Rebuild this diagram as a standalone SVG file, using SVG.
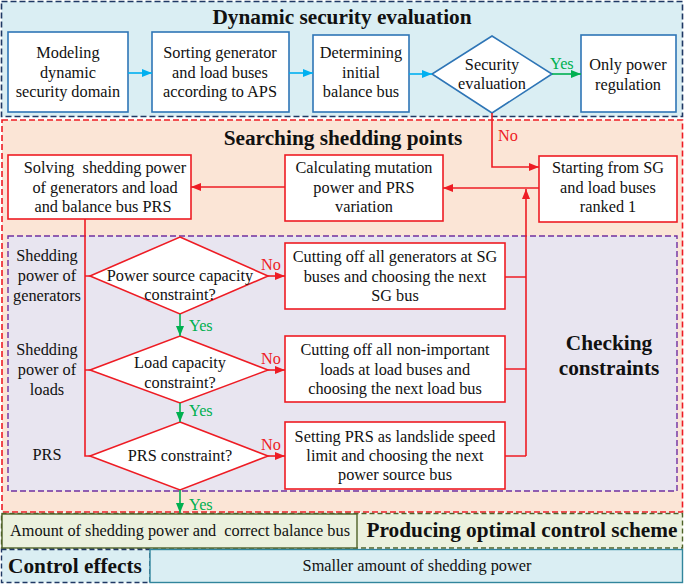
<svg xmlns="http://www.w3.org/2000/svg" width="685" height="584" viewBox="0 0 685 584">
<defs>
<style>
text{font-family:"Liberation Serif","Times New Roman","DejaVu Serif",serif;font-size:16.3px;fill:#111;text-anchor:middle}
.t{font-weight:bold;font-size:21.3px}
.bb{fill:#fff;stroke:#2e75b6;stroke-width:1.6}
.rb{fill:#fff;stroke:#ee1c24;stroke-width:1.6}
.bl{stroke:#00b0f0;stroke-width:1.6;fill:none}
.rl{stroke:#ee1c24;stroke-width:1.6;fill:none}
.gl{stroke:#00b050;stroke-width:1.6;fill:none}
.no{fill:#ee1c24;text-anchor:start}
.yes{fill:#00b050;text-anchor:start}
</style>
<marker id="ab" markerWidth="10" markerHeight="8" refX="10" refY="4" orient="auto" markerUnits="userSpaceOnUse"><path d="M0,0L10,4L0,8z" fill="#00b0f0"/></marker>
<marker id="ar" markerWidth="10" markerHeight="8" refX="10" refY="4" orient="auto" markerUnits="userSpaceOnUse"><path d="M0,0L10,4L0,8z" fill="#ee1c24"/></marker>
<marker id="ag" markerWidth="10" markerHeight="8" refX="10" refY="4" orient="auto" markerUnits="userSpaceOnUse"><path d="M0,0L10,4L0,8z" fill="#00b050"/></marker>
</defs>
<rect width="685" height="584" fill="#fff"/>
<!-- panels -->
<g id="panel-dynamic">
<rect x="1.5" y="1.5" width="681" height="115" fill="#daeef3" stroke="#1f3864" stroke-width="1.6" stroke-dasharray="6,3"/>
<text class="t" x="342" y="24">Dynamic security evaluation</text>
</g>
<g id="panel-search">
<rect x="2" y="120" width="680.5" height="392" fill="#fbe5d6" stroke="#ee1c24" stroke-width="1.6" stroke-dasharray="6,3"/>
<text class="t" x="343" y="145">Searching shedding points</text>
</g>
<g id="panel-check">
<rect x="8" y="236" width="669" height="255" fill="#e8e5f0" stroke="#7030a0" stroke-width="1.4" stroke-dasharray="6,3"/>
<text class="t" x="609" y="350">Checking</text>
<text class="t" x="609" y="375">constraints</text>
</g>
<g id="panel-produce">
<rect x="1.5" y="513.5" width="681" height="34.5" fill="#ebf1de" stroke="#4f6228" stroke-width="1.4" stroke-dasharray="5,3"/>
<rect x="2" y="514" width="355" height="34" fill="#ebf1de" stroke="#4f6228" stroke-width="1.4"/>
<text x="180" y="536" xml:space="preserve">Amount of shedding power and  correct balance bus</text>
<text class="t" x="522" y="537">Producing optimal control scheme</text>
</g>
<g id="panel-effects">
<rect x="1.5" y="549.5" width="148.5" height="33" fill="#daeef3" stroke="#1f3864" stroke-width="1.4" stroke-dasharray="5,3"/>
<text class="t" x="75" y="573">Control effects</text>
<rect x="150" y="549.5" width="532.5" height="33" fill="#daeef3" stroke="#31859c" stroke-width="1.4"/>
<text x="417" y="571">Smaller amount of shedding power</text>
</g>
<!-- nodes -->
<g id="n-model"><rect class="bb" x="8" y="32" width="120" height="80"/>
<text x="68" y="58">Modeling</text><text x="68" y="78">dynamic</text><text x="68" y="97">security domain</text></g>
<g id="n-sort"><rect class="bb" x="152" y="32" width="137" height="80"/>
<text x="220" y="58">Sorting generator</text><text x="220" y="78">and load buses</text><text x="220" y="97">according to APS</text></g>
<g id="n-init"><rect class="bb" x="313" y="35" width="96" height="77"/>
<text x="361" y="58">Determining</text><text x="361" y="78">initial</text><text x="361" y="97">balance bus</text></g>
<g id="n-sec"><path class="bb" d="M492,36L552,74L492,113L432,74z"/>
<text x="492" y="70">Security</text><text x="492" y="89">evaluation</text></g>
<g id="n-only"><rect class="bb" x="581" y="35" width="95" height="77"/>
<text x="628" y="70">Only power</text><text x="628" y="90">regulation</text></g>
<g id="n-solve"><rect class="rb" x="8" y="155" width="183" height="64"/>
<text x="105" y="173" xml:space="preserve">Solving  shedding power</text><text x="105" y="193">of generators and load</text><text x="103" y="212">and balance bus PRS</text></g>
<g id="n-calc"><rect class="rb" x="285" y="155" width="158" height="66"/>
<text x="364" y="173">Calculating mutation</text><text x="364" y="193">power and PRS</text><text x="364" y="212">variation</text></g>
<g id="n-start"><rect class="rb" x="539" y="156" width="138" height="66"/>
<text x="608" y="173">Starting from SG</text><text x="608" y="193">and load buses</text><text x="608" y="212">ranked 1</text></g>
<g id="n-d1"><path class="rb" d="M180,237L268,276L180,314L90,276z"/>
<text x="180" y="281">Power source capacity</text><text x="180" y="300">constraint?</text></g>
<g id="n-d2"><path class="rb" d="M180,336L268,370L180,403L90,370z"/>
<text x="180" y="368">Load capacity</text><text x="180" y="388">constraint?</text></g>
<g id="n-d3"><path class="rb" d="M180,422L268,456L180,490L90,456z"/>
<text x="180" y="461">PRS constraint?</text></g>
<g id="n-cutgen"><rect class="rb" x="285" y="243" width="220" height="66"/>
<text x="395" y="262">Cutting off all generators at SG</text><text x="395" y="282">buses and choosing the next</text><text x="395" y="301">SG bus</text></g>
<g id="n-cutload"><rect class="rb" x="285" y="336" width="220" height="66"/>
<text x="395" y="355">Cutting off all non-important</text><text x="395" y="375">loads at load buses and</text><text x="395" y="394">choosing the next load bus</text></g>
<g id="n-setprs"><rect class="rb" x="285" y="422" width="220" height="67"/>
<text x="395" y="442">Setting PRS as landslide speed</text><text x="395" y="461">limit and choosing the next</text><text x="395" y="480">power source bus</text></g>
<g id="labels-left">
<text x="47" y="261">Shedding</text><text x="47" y="281">power of</text><text x="47" y="301">generators</text>
<text x="47" y="355">Shedding</text><text x="47" y="375">power of</text><text x="47" y="395">loads</text>
<text x="47" y="460">PRS</text>
</g>
<!-- connectors -->
<g id="connectors">
<path class="bl" marker-end="url(#ab)" d="M128,73H152"/>
<path class="bl" marker-end="url(#ab)" d="M289,73H313"/>
<path class="bl" marker-end="url(#ab)" d="M409,74H432"/>
<path class="gl" marker-end="url(#ag)" d="M552,74H581"/>
<text class="yes" x="550" y="69">Yes</text>
<path class="rl" marker-end="url(#ar)" d="M492,113V167H539"/>
<text class="no" x="498" y="141">No</text>
<path class="rl" marker-end="url(#ar)" d="M539,188H443"/>
<path class="rl" marker-end="url(#ar)" d="M285,187H191"/>
<path class="rl" d="M85,219V456H90M85,276H90M85,370H90"/>
<path class="rl" marker-end="url(#ar)" d="M268,276H285"/>
<path class="rl" marker-end="url(#ar)" d="M268,370H285"/>
<path class="rl" marker-end="url(#ar)" d="M268,456H285"/>
<text class="no" x="261" y="270">No</text>
<text class="no" x="261" y="364">No</text>
<text class="no" x="261" y="450">No</text>
<path class="rl" d="M505,277H526M505,369H526M505,456H526"/>
<path class="rl" marker-end="url(#ar)" d="M526,456V189"/>
<path class="gl" marker-end="url(#ag)" d="M180,314V336"/>
<path class="gl" marker-end="url(#ag)" d="M180,403V422"/>
<path class="gl" marker-end="url(#ag)" d="M180,490V513"/>
<text class="yes" x="189" y="331">Yes</text>
<text class="yes" x="189" y="416">Yes</text>
<text class="yes" x="189" y="510">Yes</text>
</g>
</svg>
